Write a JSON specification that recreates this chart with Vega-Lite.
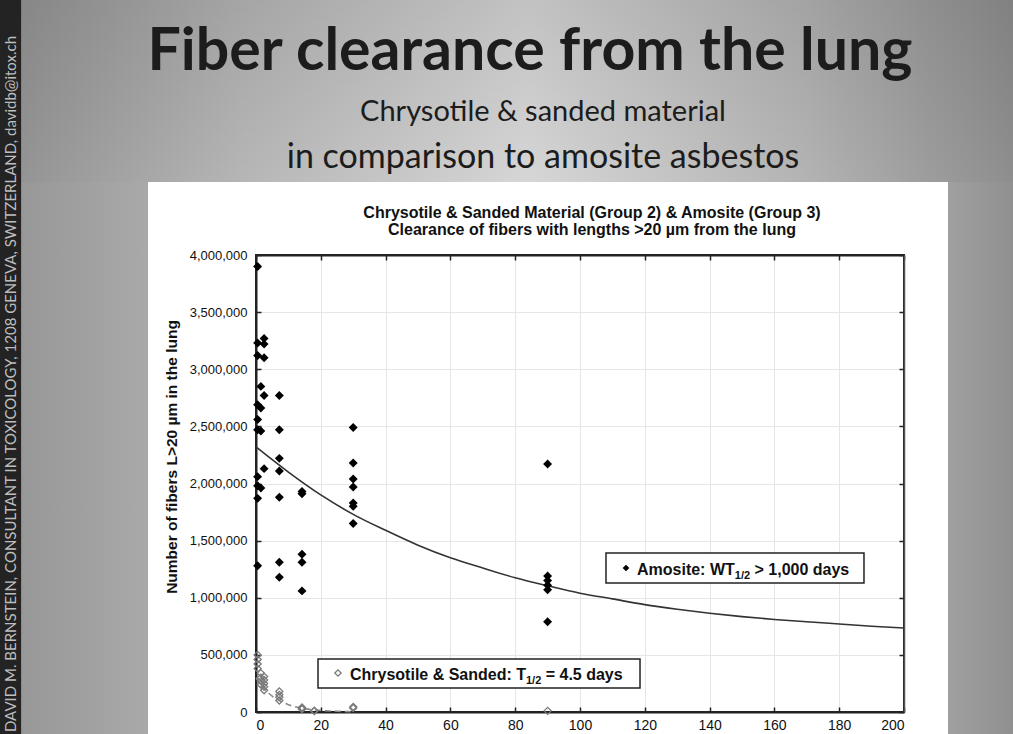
{
  "$schema": "https://vega.github.io/schema/vega-lite/v6.json",
  "width": 648,
  "height": 457,
  "autosize": {"type": "none"},
  "padding": {"left": 256, "top": 255, "right": 109, "bottom": 22},
  "background": "#ffffff",
  "config": {
    "view": {"stroke": "#222222", "strokeWidth": 2},
    "axis": {
      "labelFont": "Liberation Sans", "labelFontSize": 13, "labelColor": "#111111",
      "titleFont": "Liberation Sans", "titleFontSize": 15, "titleFontWeight": "bold", "titleColor": "#111111",
      "gridColor": "#e6e6e6", "gridWidth": 1,
      "domainColor": "#222222", "domainWidth": 2, "tickColor": "#222222", "tickWidth": 1.5
    }
  },
  "datasets": {
    "amosite": [
      {"day": 0.5, "fibers": 3900000}, {"day": 0.5, "fibers": 3230000}, {"day": 0.5, "fibers": 3120000},
      {"day": 0.5, "fibers": 2690000}, {"day": 0.5, "fibers": 2560000}, {"day": 0.5, "fibers": 2470000},
      {"day": 0.5, "fibers": 2060000}, {"day": 0.5, "fibers": 1980000}, {"day": 0.5, "fibers": 1870000},
      {"day": 0.5, "fibers": 1280000},
      {"day": 1.5, "fibers": 2850000}, {"day": 1.5, "fibers": 2660000}, {"day": 1.5, "fibers": 2460000},
      {"day": 1.5, "fibers": 1960000},
      {"day": 2.5, "fibers": 3270000}, {"day": 2.5, "fibers": 3220000}, {"day": 2.5, "fibers": 3100000},
      {"day": 2.5, "fibers": 2770000}, {"day": 2.5, "fibers": 2130000},
      {"day": 7.2, "fibers": 2770000}, {"day": 7.2, "fibers": 2470000}, {"day": 7.2, "fibers": 2220000},
      {"day": 7.2, "fibers": 2110000}, {"day": 7.2, "fibers": 1880000}, {"day": 7.2, "fibers": 1310000},
      {"day": 7.2, "fibers": 1180000},
      {"day": 14.2, "fibers": 1930000}, {"day": 14.2, "fibers": 1910000}, {"day": 14.2, "fibers": 1380000},
      {"day": 14.2, "fibers": 1310000}, {"day": 14.2, "fibers": 1060000},
      {"day": 30, "fibers": 2490000}, {"day": 30, "fibers": 2180000}, {"day": 30, "fibers": 2040000},
      {"day": 30, "fibers": 1970000}, {"day": 30, "fibers": 1830000}, {"day": 30, "fibers": 1800000},
      {"day": 30, "fibers": 1650000},
      {"day": 90, "fibers": 2170000}, {"day": 90, "fibers": 1190000}, {"day": 90, "fibers": 1150000},
      {"day": 90, "fibers": 1110000}, {"day": 90, "fibers": 1070000}, {"day": 90, "fibers": 790000}
    ],
    "chrysotile": [
      {"day": 0.5, "fibers": 500000}, {"day": 0.5, "fibers": 460000}, {"day": 0.5, "fibers": 420000},
      {"day": 0.5, "fibers": 380000},
      {"day": 1.5, "fibers": 340000}, {"day": 1.5, "fibers": 300000}, {"day": 1.5, "fibers": 270000},
      {"day": 1.5, "fibers": 240000},
      {"day": 2.5, "fibers": 310000}, {"day": 2.5, "fibers": 280000}, {"day": 2.5, "fibers": 250000},
      {"day": 2.5, "fibers": 220000}, {"day": 2.5, "fibers": 190000},
      {"day": 7.2, "fibers": 180000}, {"day": 7.2, "fibers": 150000}, {"day": 7.2, "fibers": 130000},
      {"day": 7.2, "fibers": 100000},
      {"day": 14.2, "fibers": 40000}, {"day": 14.2, "fibers": 30000}, {"day": 14.2, "fibers": 25000},
      {"day": 18, "fibers": 12000}, {"day": 18, "fibers": 8000},
      {"day": 30, "fibers": 45000}, {"day": 30, "fibers": 35000},
      {"day": 90, "fibers": 10000}
    ],
    "amositeFit": [
      {"day": 0, "fibers": 2320000}, {"day": 10, "fibers": 2100000}, {"day": 20, "fibers": 1900000},
      {"day": 30, "fibers": 1730000}, {"day": 40, "fibers": 1590000}, {"day": 50, "fibers": 1460000},
      {"day": 60, "fibers": 1350000}, {"day": 70, "fibers": 1260000}, {"day": 80, "fibers": 1175000},
      {"day": 90, "fibers": 1105000}, {"day": 100, "fibers": 1040000}, {"day": 110, "fibers": 990000},
      {"day": 120, "fibers": 940000}, {"day": 130, "fibers": 900000}, {"day": 140, "fibers": 865000},
      {"day": 150, "fibers": 835000}, {"day": 160, "fibers": 810000}, {"day": 170, "fibers": 790000},
      {"day": 180, "fibers": 770000}, {"day": 190, "fibers": 750000}, {"day": 200, "fibers": 735000}
    ],
    "chrysotileFit": [
      {"day": 0, "fibers": 300000}, {"day": 2, "fibers": 220000}, {"day": 4, "fibers": 162000},
      {"day": 6, "fibers": 119000}, {"day": 8, "fibers": 88000}, {"day": 10, "fibers": 64000},
      {"day": 12, "fibers": 47000}, {"day": 14, "fibers": 35000}, {"day": 16, "fibers": 25000},
      {"day": 20, "fibers": 14000}, {"day": 25, "fibers": 6500}, {"day": 30, "fibers": 3000}
    ],
    "one": [{}]
  },
  "resolve": {"axis": {"x": "independent", "y": "independent"}},
  "layer": [
    {
      "data": {"name": "one"},
      "mark": {"type": "rect", "fill": {"gradient": "linear", "x1": 0, "y1": 0, "x2": 1, "y2": 0,
        "stops": [{"offset": 0, "color": "#8e8e8e"}, {"offset": 0.25, "color": "#b6b6b6"}, {"offset": 0.52, "color": "#d6d6d6"}, {"offset": 0.78, "color": "#b4b4b4"}, {"offset": 1, "color": "#8a8a8a"}]}},
      "encoding": {
        "x": {"datum": -85, "type": "quantitative", "scale": {"domain": [0, 200], "nice": false}, "axis": null},
        "x2": {"datum": 240},
        "y": {"datum": 6400000, "type": "quantitative", "scale": {"domain": [0, 4000000], "nice": false}, "axis": null},
        "y2": {"datum": 4639000}
      }
    },
    {
      "data": {"name": "one"},
      "mark": {"type": "rect", "fill": {"gradient": "linear", "x1": 0, "y1": 0, "x2": 0, "y2": 1,
        "stops": [{"offset": 0, "color": "rgba(0,0,0,0.10)"}, {"offset": 1, "color": "rgba(0,0,0,0)"}]}},
      "encoding": {
        "x": {"datum": -85, "type": "quantitative", "scale": {"domain": [0, 200], "nice": false}, "axis": null},
        "x2": {"datum": 240},
        "y": {"datum": 6400000, "type": "quantitative", "scale": {"domain": [0, 4000000], "nice": false}, "axis": null},
        "y2": {"datum": 4639000}
      }
    },
    {
      "data": {"name": "one"},
      "mark": {"type": "rect", "fill": {"gradient": "linear", "x1": 0, "y1": 0, "x2": 1, "y2": 0,
        "stops": [{"offset": 0, "color": "#929292"}, {"offset": 1, "color": "#a9a9a9"}]}},
      "encoding": {
        "x": {"datum": -85, "type": "quantitative", "scale": {"domain": [0, 200], "nice": false}, "axis": null},
        "x2": {"datum": -33.33},
        "y": {"datum": 4639000, "type": "quantitative", "scale": {"domain": [0, 4000000], "nice": false}, "axis": null},
        "y2": {"datum": -300000}
      }
    },
    {
      "data": {"name": "one"},
      "mark": {"type": "rect", "fill": {"gradient": "linear", "x1": 0, "y1": 0, "x2": 1, "y2": 0,
        "stops": [{"offset": 0, "color": "#a0a0a0"}, {"offset": 1, "color": "#8a8a8a"}]}},
      "encoding": {
        "x": {"datum": 213.58, "type": "quantitative", "scale": {"domain": [0, 200], "nice": false}, "axis": null},
        "x2": {"datum": 240},
        "y": {"datum": 4639000, "type": "quantitative", "scale": {"domain": [0, 4000000], "nice": false}, "axis": null},
        "y2": {"datum": -300000}
      }
    },
    {
      "data": {"name": "one"},
      "mark": {"type": "rect", "fill": "#232323"},
      "encoding": {
        "x": {"datum": -85, "type": "quantitative", "scale": {"domain": [0, 200], "nice": false}, "axis": null},
        "x2": {"datum": -72.5},
        "y": {"datum": 6400000, "type": "quantitative", "scale": {"domain": [0, 4000000], "nice": false}, "axis": null},
        "y2": {"datum": -300000}
      }
    },
    {
      "data": {"name": "one"},
      "mark": {"type": "text", "text": "DAVID M. BERNSTEIN, CONSULTANT IN TOXICOLOGY, 1208 GENEVA, SWITZERLAND, davidb@itox.ch",
        "angle": 270, "font": "Lato", "fontSize": 15, "color": "#bdbdbd", "align": "center", "baseline": "middle"},
      "encoding": {
        "x": {"datum": -75.6, "type": "quantitative", "scale": {"domain": [0, 200], "nice": false}, "axis": null},
        "y": {"datum": 2871000, "type": "quantitative", "scale": {"domain": [0, 4000000], "nice": false}, "axis": null}
      }
    },
    {
      "data": {"name": "one"},
      "mark": {"type": "text", "text": "Fiber clearance from the lung", "font": "Lato", "fontWeight": "bold",
        "fontSize": 59, "color": "#1c1c1c", "align": "center", "baseline": "alphabetic"},
      "encoding": {
        "x": {"datum": 84.57, "type": "quantitative", "scale": {"domain": [0, 200], "nice": false}, "axis": null},
        "y": {"datum": 5619000, "type": "quantitative", "scale": {"domain": [0, 4000000], "nice": false}, "axis": null}
      }
    },
    {
      "data": {"name": "one"},
      "mark": {"type": "text", "text": "Chrysotile & sanded material", "font": "Lato",
        "fontSize": 29, "color": "#1c1c1c", "align": "center", "baseline": "alphabetic"},
      "encoding": {
        "x": {"datum": 88.58, "type": "quantitative", "scale": {"domain": [0, 200], "nice": false}, "axis": null},
        "y": {"datum": 5173000, "type": "quantitative", "scale": {"domain": [0, 4000000], "nice": false}, "axis": null}
      }
    },
    {
      "data": {"name": "one"},
      "mark": {"type": "text", "text": "in comparison to amosite asbestos", "font": "Lato",
        "fontSize": 34, "color": "#1c1c1c", "align": "center", "baseline": "alphabetic"},
      "encoding": {
        "x": {"datum": 88.58, "type": "quantitative", "scale": {"domain": [0, 200], "nice": false}, "axis": null},
        "y": {"datum": 4761000, "type": "quantitative", "scale": {"domain": [0, 4000000], "nice": false}, "axis": null}
      }
    },
    {
      "data": {"name": "one"},
      "mark": {"type": "text", "text": "Chrysotile & Sanded Material (Group 2) & Amosite (Group 3)", "font": "Liberation Sans",
        "fontWeight": "bold", "fontSize": 16, "color": "#111111", "align": "center", "baseline": "alphabetic"},
      "encoding": {
        "x": {"datum": 103.7, "type": "quantitative", "scale": {"domain": [0, 200], "nice": false}, "axis": null},
        "y": {"datum": 4324000, "type": "quantitative", "scale": {"domain": [0, 4000000], "nice": false}, "axis": null}
      }
    },
    {
      "data": {"name": "one"},
      "mark": {"type": "text", "text": "Clearance of fibers with lengths >20 µm from the lung", "font": "Liberation Sans",
        "fontWeight": "bold", "fontSize": 16, "color": "#111111", "align": "center", "baseline": "alphabetic"},
      "encoding": {
        "x": {"datum": 103.7, "type": "quantitative", "scale": {"domain": [0, 200], "nice": false}, "axis": null},
        "y": {"datum": 4175000, "type": "quantitative", "scale": {"domain": [0, 4000000], "nice": false}, "axis": null}
      }
    },
    {
      "data": {"name": "one"},
      "mark": {"type": "text", "text": "Number of fibers L>20 µm in the lung", "font": "Liberation Sans",
        "fontWeight": "bold", "fontSize": 15.5, "color": "#111111", "align": "center", "baseline": "middle", "angle": 270},
      "encoding": {
        "x": {"datum": -25.93, "type": "quantitative", "scale": {"domain": [0, 200], "nice": false}, "axis": null},
        "y": {"datum": 2232000, "type": "quantitative", "scale": {"domain": [0, 4000000], "nice": false}, "axis": null}
      }
    },
    {
      "data": {"name": "chrysotileFit"},
      "mark": {"type": "line", "color": "#8a8a8a", "strokeWidth": 1.6, "strokeDash": [6, 4], "interpolate": "monotone"},
      "encoding": {
        "x": {"field": "day", "type": "quantitative", "scale": {"domain": [0, 200], "nice": false}, "axis": null},
        "y": {"field": "fibers", "type": "quantitative", "scale": {"domain": [0, 4000000], "nice": false}, "axis": null}
      }
    },
    {
      "data": {"name": "amositeFit"},
      "mark": {"type": "line", "color": "#333333", "strokeWidth": 1.6, "interpolate": "monotone"},
      "encoding": {
        "x": {"field": "day", "type": "quantitative", "scale": {"domain": [0, 200], "nice": false},
          "axis": {"orient": "top", "labels": false, "title": null, "grid": false, "tickSize": -5, "values": [0, 20, 40, 60, 80, 100, 120, 140, 160, 180, 200]}},
        "y": {"field": "fibers", "type": "quantitative", "scale": {"domain": [0, 4000000], "nice": false},
          "axis": {"orient": "right", "labels": false, "title": null, "grid": false, "tickSize": -5, "domainColor": "#555555", "domainWidth": 1.5,
            "values": [0, 500000, 1000000, 1500000, 2000000, 2500000, 3000000, 3500000, 4000000]}}
      }
    },
    {
      "data": {"name": "chrysotile"},
      "mark": {"type": "point", "shape": "diamond", "filled": false, "color": "#7a7a7a", "strokeWidth": 1.3, "size": 50, "opacity": 1},
      "encoding": {
        "x": {"field": "day", "type": "quantitative", "scale": {"domain": [0, 200], "nice": false}, "axis": null},
        "y": {"field": "fibers", "type": "quantitative", "scale": {"domain": [0, 4000000], "nice": false}, "axis": null}
      }
    },
    {
      "data": {"name": "amosite"},
      "mark": {"type": "point", "shape": "diamond", "filled": true, "color": "#000000", "size": 80, "opacity": 1},
      "encoding": {
        "x": {"field": "day", "type": "quantitative", "scale": {"domain": [0, 200], "nice": false},
          "axis": {"orient": "bottom", "title": null, "grid": true, "tickSize": -5, "labelPadding": 11, "format": "d", "labelFontSize": 14,
            "values": [0, 20, 40, 60, 80, 100, 120, 140, 160, 180, 200]}},
        "y": {"field": "fibers", "type": "quantitative", "scale": {"domain": [0, 4000000], "nice": false},
          "axis": {"orient": "left", "title": null, "grid": true, "tickSize": -5, "labelPadding": 14,
            "format": ",d",
            "values": [0, 500000, 1000000, 1500000, 2000000, 2500000, 3000000, 3500000, 4000000]}}
      }
    },
    {
      "data": {"name": "one"},
      "mark": {"type": "rect", "fill": "#ffffff", "stroke": "#222222", "strokeWidth": 1.5},
      "encoding": {
        "x": {"datum": 108.02, "type": "quantitative", "scale": {"domain": [0, 200], "nice": false}, "axis": null},
        "x2": {"datum": 187.65},
        "y": {"datum": 1391700, "type": "quantitative", "scale": {"domain": [0, 4000000], "nice": false}, "axis": null},
        "y2": {"datum": 1129100}
      }
    },
    {
      "data": {"name": "one"},
      "mark": {"type": "rect", "fill": "#ffffff", "stroke": "#222222", "strokeWidth": 1.5},
      "encoding": {
        "x": {"datum": 19.14, "type": "quantitative", "scale": {"domain": [0, 200], "nice": false}, "axis": null},
        "x2": {"datum": 118.52},
        "y": {"datum": 463900, "type": "quantitative", "scale": {"domain": [0, 4000000], "nice": false}, "axis": null},
        "y2": {"datum": 210100}
      }
    },
    {
      "data": {"name": "one"},
      "mark": {"type": "point", "shape": "diamond", "filled": true, "color": "#000000", "size": 45, "opacity": 1},
      "encoding": {
        "x": {"datum": 114.2, "type": "quantitative", "scale": {"domain": [0, 200], "nice": false}, "axis": null},
        "y": {"datum": 1260400, "type": "quantitative", "scale": {"domain": [0, 4000000], "nice": false}, "axis": null}
      }
    },
    {
      "data": {"name": "one"},
      "mark": {"type": "point", "shape": "diamond", "filled": false, "color": "#7a7a7a", "strokeWidth": 1.3, "size": 40, "opacity": 1},
      "encoding": {
        "x": {"datum": 25.31, "type": "quantitative", "scale": {"domain": [0, 200], "nice": false}, "axis": null},
        "y": {"datum": 341400, "type": "quantitative", "scale": {"domain": [0, 4000000], "nice": false}, "axis": null}
      }
    },
    {
      "data": {"name": "one"},
      "mark": {"type": "text", "text": "Amosite: WT", "font": "Liberation Sans", "fontWeight": "bold", "fontSize": 16, "color": "#111111", "align": "left", "baseline": "alphabetic"},
      "encoding": {
        "x": {"datum": 117.59, "type": "quantitative", "scale": {"domain": [0, 200], "nice": false}, "axis": null},
        "y": {"datum": 1199100, "type": "quantitative", "scale": {"domain": [0, 4000000], "nice": false}, "axis": null}
      }
    },
    {
      "data": {"name": "one"},
      "mark": {"type": "text", "text": "1/2", "font": "Liberation Sans", "fontWeight": "bold", "fontSize": 11, "color": "#111111", "align": "left", "baseline": "alphabetic"},
      "encoding": {
        "x": {"datum": 147.78, "type": "quantitative", "scale": {"domain": [0, 200], "nice": false}, "axis": null},
        "y": {"datum": 1164100, "type": "quantitative", "scale": {"domain": [0, 4000000], "nice": false}, "axis": null}
      }
    },
    {
      "data": {"name": "one"},
      "mark": {"type": "text", "text": "> 1,000 days", "font": "Liberation Sans", "fontWeight": "bold", "fontSize": 16, "color": "#111111", "align": "left", "baseline": "alphabetic"},
      "encoding": {
        "x": {"datum": 153.86, "type": "quantitative", "scale": {"domain": [0, 200], "nice": false}, "axis": null},
        "y": {"datum": 1199100, "type": "quantitative", "scale": {"domain": [0, 4000000], "nice": false}, "axis": null}
      }
    },
    {
      "data": {"name": "one"},
      "mark": {"type": "text", "text": "Chrysotile & Sanded: T", "font": "Liberation Sans", "fontWeight": "bold", "fontSize": 16, "color": "#111111", "align": "left", "baseline": "alphabetic"},
      "encoding": {
        "x": {"datum": 29.01, "type": "quantitative", "scale": {"domain": [0, 200], "nice": false}, "axis": null},
        "y": {"datum": 280100, "type": "quantitative", "scale": {"domain": [0, 4000000], "nice": false}, "axis": null}
      }
    },
    {
      "data": {"name": "one"},
      "mark": {"type": "text", "text": "1/2", "font": "Liberation Sans", "fontWeight": "bold", "fontSize": 11, "color": "#111111", "align": "left", "baseline": "alphabetic"},
      "encoding": {
        "x": {"datum": 83.33, "type": "quantitative", "scale": {"domain": [0, 200], "nice": false}, "axis": null},
        "y": {"datum": 245100, "type": "quantitative", "scale": {"domain": [0, 4000000], "nice": false}, "axis": null}
      }
    },
    {
      "data": {"name": "one"},
      "mark": {"type": "text", "text": "= 4.5 days", "font": "Liberation Sans", "fontWeight": "bold", "fontSize": 16, "color": "#111111", "align": "left", "baseline": "alphabetic"},
      "encoding": {
        "x": {"datum": 89.41, "type": "quantitative", "scale": {"domain": [0, 200], "nice": false}, "axis": null},
        "y": {"datum": 280100, "type": "quantitative", "scale": {"domain": [0, 4000000], "nice": false}, "axis": null}
      }
    }
  ]
}
